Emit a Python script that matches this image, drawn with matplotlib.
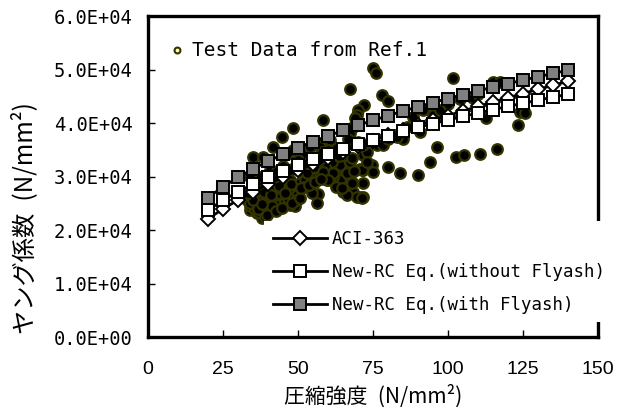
import matplotlib
matplotlib.use('Agg')
import matplotlib.pyplot as plt
from matplotlib.ticker import FuncFormatter

# --- data ---
fc = [20, 25, 30, 35, 40, 45, 50, 55, 60, 65, 70, 75, 80,
      85, 90, 95, 100, 105, 110, 115, 120, 125, 130, 135, 140]

aci_363 = [22100, 23940, 25610, 27140, 28570, 29900, 31170, 32380, 33530,
           34630, 35700, 36720, 37710, 38680, 39610, 40520, 41400, 42260,
           43100, 43930, 44730, 45520, 46300, 47050, 47800]

new_rc_no_fa = [23720, 25550, 27150, 28590, 29890, 31090, 32200, 33230, 34220,
                35140, 36020, 36860, 37660, 38430, 39170, 39890, 40570, 41230,
                41880, 42510, 43110, 43700, 44270, 44840, 45380]

new_rc_fa = [26070, 28080, 29840, 31420, 32850, 34160, 35380, 36520, 37600,
             38610, 39580, 40500, 41380, 42230, 43040, 43830, 44580, 45310,
             46020, 46710, 47370, 48020, 48650, 49270, 49870]

# test data from Ref.1 (fc, E)
test_fc = [75.1, 76.0, 67.3, 101.8, 77.9, 80.1, 72.0, 70.1, 69.6, 58.4,
           48.4, 44.6, 41.6, 35.1, 96.2, 94.0, 102.6, 105.3, 110.7, 116.2,
           123.3, 124.0, 125.7, 80.1, 84.0, 90.1, 71.8, 70.7, 56.8, 56.2,
           65.0, 68.4, 49.0, 49.3, 37.9, 36.2, 33.9, 40.1, 115.1, 117.3,
           112.6, 108.4, 95.0, 91.7, 86.2, 88.4, 97.3, 90.7, 85.0,
           69.0, 68.4, 67.3, 66.8, 71.8, 74.6, 71.8, 75.1, 70.7, 65.1,
           67.9, 64.0, 61.8, 62.9, 65.7, 66.8, 64.0, 67.3, 62.9, 65.7,
           67.9, 72.9, 76.2, 78.4, 70.1, 71.8, 74.0, 80.0, 82.9, 61.2,
           61.2, 62.3,
           34.0, 35.7, 39.6, 41.8, 44.0, 45.7, 43.5, 41.8, 46.2, 48.4,
           50.7, 52.9, 54.6, 57.3, 59.0, 55.7, 51.8, 47.3, 44.0, 37.3,
           35.1, 32.9, 38.4, 40.7, 42.9, 47.3, 49.6, 36.2, 59.6, 60.7,
           58.4, 48.4, 46.2, 52.3, 54.0, 57.3, 60.7, 40.7, 37.3, 34.0,
           42.9,
           34.0, 36.8, 35.1, 33.4, 36.2, 39.6, 38.4, 41.2, 39.0,
           45.7, 46.8, 65.1, 66.2, 69.6, 71.2, 67.9, 71.2, 71.8, 61.8,
           58.4, 52.3, 52.9, 60.1, 66.2,
           45.0, 50.0, 55.0, 48.0, 53.0, 57.0, 43.0, 60.0, 58.0, 104.0,
           110.0, 100.0,
           36.5, 38.0, 39.5, 42.5, 44.5, 46.5, 48.0, 50.5, 52.0, 54.5,
           38.5, 41.0, 43.5, 45.5, 47.5, 51.0, 53.5, 55.5, 57.5, 62.5,
           64.5, 68.5, 73.0, 63.5]

test_e = [50200, 49400, 46300, 48500, 45200, 44200, 43300, 42400, 41500, 40600,
          39000, 37400, 35600, 33700, 35600, 32800, 33600, 34000, 34300, 35100,
          39600, 42000, 41800, 31800, 30700, 30300, 26100, 26200, 26800, 25100,
          27200, 27200, 24400, 26500, 22200, 23100, 23700, 23100, 47600, 47600,
          41000, 44700, 41500, 42400, 39300, 41200, 42400, 38400, 37100,
          40900, 39300, 38100, 37100, 34000, 32100, 31200, 30900, 31500, 29700,
          29000, 29300, 29900, 31200, 31200, 30600, 32100, 32800, 34000, 34000,
          33400, 34600, 35900, 35900, 36500, 35900, 36500, 37100, 37400, 32800,
          34600, 35300,
          24400, 23700, 23700, 25600, 25600, 25300, 26900, 27500, 27500, 26500,
          28700, 29700, 30000, 30600, 31800, 31800, 30900, 29300, 29000, 26900,
          26200, 25600, 25600, 24400, 24700, 24700, 25600, 28400, 29300, 30000,
          36200, 35000, 34300, 34300, 35600, 35600, 36800, 31200, 30000, 30000,
          30000,
          25000, 23400, 25600, 26900, 27500, 26900, 33700, 24400, 22500,
          25300, 27500, 27500, 26500, 26200, 25900, 28700, 31200, 28700, 30600,
          30900, 29300, 30600, 29300, 30600,
          32000, 33000, 33500, 31500, 32500, 33000, 31000, 35000, 34500, 44500,
          45500, 43500,
          24000, 24800, 22800, 23600, 24200, 26000, 25000, 26000, 28000, 27000,
          27200, 26600, 28200, 27000, 28600, 27800, 28400, 29000, 29500, 28000,
          27800, 31000, 32800, 33800]

# --- figure ---
plt.rcParams['font.family'] = ['DejaVu Sans Mono']
fig = plt.figure(figsize=(6.25, 4.19), dpi=100)
ax = fig.add_axes([0.2368, 0.1957, 0.72, 0.766])

pts = ax.scatter(test_fc, test_e, s=58, c='black', edgecolors='#333300',
                 linewidths=1.6, zorder=2, label='Test Data from Ref.1')

l1, = ax.plot(fc, aci_363, color='black', lw=2, marker='D', ms=7.5,
              mfc='white', mec='black', mew=1.4, zorder=3, label='ACI-363')
l2, = ax.plot(fc, new_rc_no_fa, color='black', lw=2, marker='s', ms=8.5,
              mfc='white', mec='black', mew=1.4, zorder=4,
              label='New-RC Eq.(without Flyash)')
l3, = ax.plot(fc, new_rc_fa, color='black', lw=2, marker='s', ms=8.5,
              mfc='#808080', mec='black', mew=1.4, zorder=5,
              label='New-RC Eq.(with Flyash)')

ax.set_xlim(0, 150)
ax.set_ylim(0, 60000)
ax.set_xticks([0, 25, 50, 75, 100, 125, 150])
ax.set_yticks([0, 10000, 20000, 30000, 40000, 50000, 60000])
ax.yaxis.set_major_formatter(FuncFormatter(lambda v, p: '{:.1E}'.format(v)))

for s in ax.spines.values():
    s.set_linewidth(2.4)
ax.tick_params(direction='in', length=5, width=1)
ax.tick_params(axis='y', pad=11, labelsize=13.5)
ax.tick_params(axis='x', pad=17, labelsize=14)
for t in ax.get_xticklabels():
    t.set_fontfamily('Liberation Sans')

cjk = ['Noto Sans CJK JP', 'DejaVu Sans']
ax.set_xlabel('圧縮強度\u2002(N/mm²)', family=cjk, fontsize=15, labelpad=5)
ax.set_ylabel('ヤング係数\u2002(N/mm²)', family=cjk, fontsize=17.5)
ax.yaxis.set_label_coords(-0.245, 0.37)

# top-left legend for the test data
leg1 = ax.legend(handles=[pts], loc='upper left', bbox_to_anchor=(0.012, 0.96),
                 frameon=False, fontsize=14, handletextpad=0.2,
                 handlelength=1.2, borderaxespad=0.2)
h = leg1.legend_handles[0]
h.set_facecolor('#ffff99')
h.set_edgecolor('#333300')
h.set_sizes([18])
h.set_linewidths(1.5)
ax.add_artist(leg1)

# lower-right legend for the equations (white box over the spine)
leg2 = ax.legend(handles=[l1, l2, l3], loc='upper left',
                 bbox_to_anchor=(0.258, 0.36), fontsize=12.5,
                 numpoints=1, handlelength=3.1, handletextpad=0.3,
                 labelspacing=0.85, borderpad=0.5, borderaxespad=0,
                 frameon=True, fancybox=False, facecolor='white',
                 edgecolor='none', framealpha=1)
leg2.set_zorder(10)

fig.savefig('out.png', dpi=100)
